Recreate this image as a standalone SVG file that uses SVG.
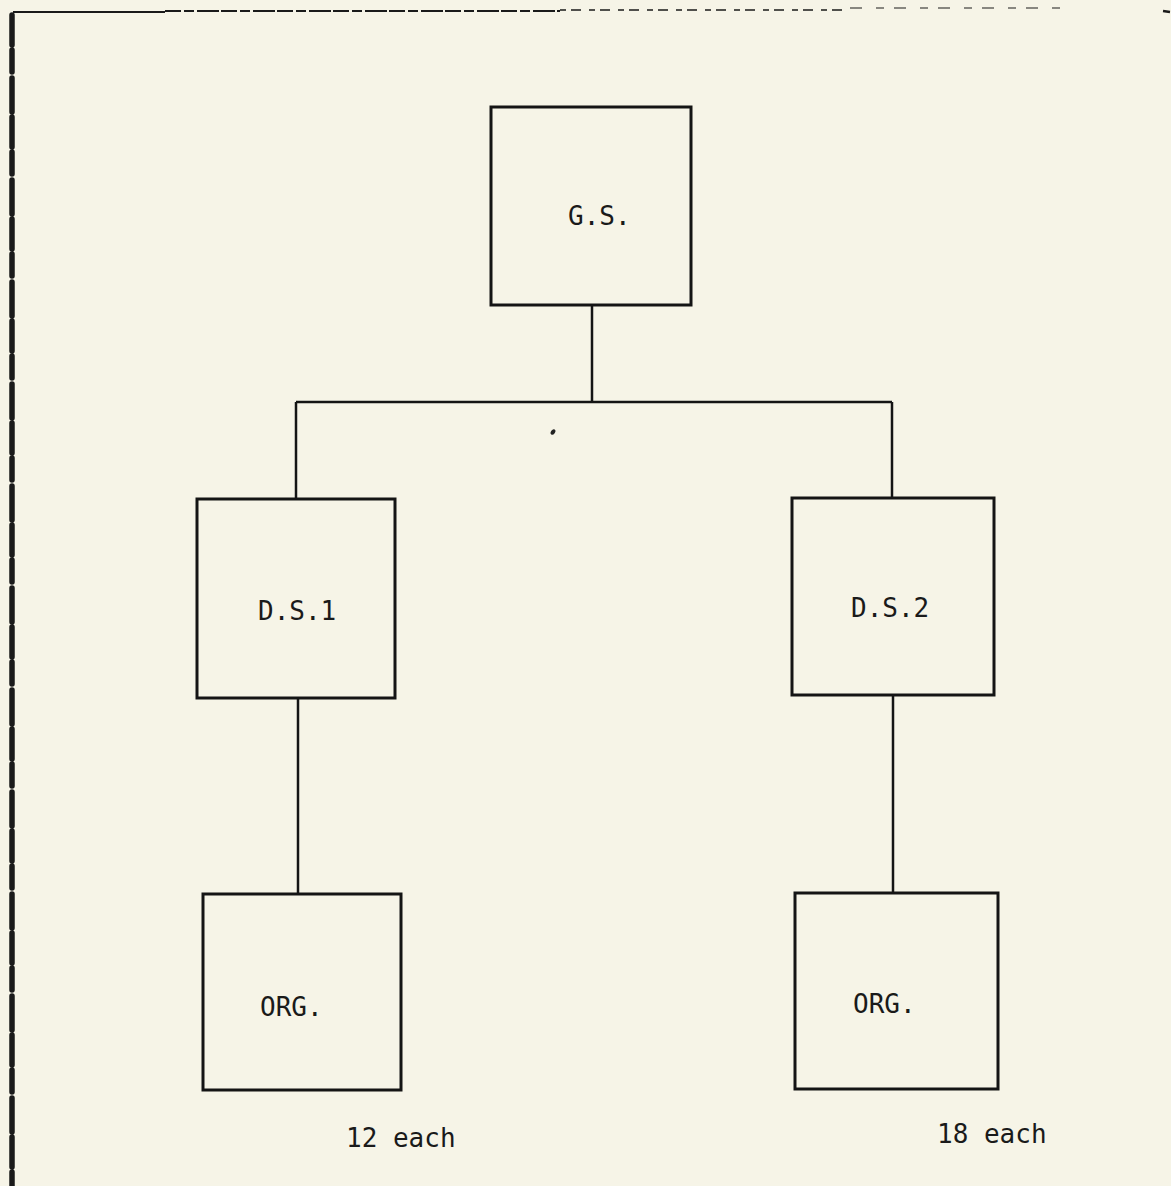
<svg xmlns="http://www.w3.org/2000/svg" width="1171" height="1186" viewBox="0 0 1171 1186">
<style>
.bg{fill:#f6f4e7}
.box{fill:none;stroke:#141414;stroke-width:3}
.con{fill:none;stroke:#141414;stroke-width:2.5}
.lbl{font-family:"DejaVu Sans Mono","Liberation Mono",monospace;font-size:26px;fill:#1a1a1a}
.frame{fill:none;stroke:#1a1a1a}
</style>
<rect class="bg" x="0" y="0" width="1171" height="1186"/>
<g id="frame">
<path class="frame" stroke-width="5.5" stroke-linecap="round" stroke-dasharray="30 5 22 6 34 5" d="M12 15 V1186"/>
<path class="frame" stroke-width="2.2" d="M13 12 H165"/>
<path class="frame" stroke-width="1.8" stroke-dasharray="16 3 10 3 22 2" d="M165 11 H560"/>
<path class="frame" stroke-width="1.4" stroke="#444" stroke-dasharray="6 5 10 8" d="M560 10 H850"/>
<path class="frame" stroke-width="1.2" stroke="#aaa" stroke-dasharray="12 14 8 10" d="M850 8 H1060"/>
<path class="frame" stroke-width="2.5" d="M1163 11 L1170 12"/>
</g>
<g id="connectors">
<path class="con" d="M592 305 V402"/>
<path class="con" d="M296 402 H892"/>
<path class="con" d="M296 402 V499"/>
<path class="con" d="M892 402 V498"/>
<path class="con" d="M298 698 V894"/>
<path class="con" d="M893 695 V893"/>
</g>
<ellipse cx="553" cy="432" rx="2" ry="3" fill="#222" transform="rotate(35 553 432)"/>
<g id="node-gs">
<rect class="box" x="491" y="107" width="200" height="198"/>
<text class="lbl" x="568" y="225">G.S.</text>
</g>
<g id="node-ds1">
<rect class="box" x="197" y="499" width="198" height="199"/>
<text class="lbl" x="258" y="620">D.S.1</text>
</g>
<g id="node-ds2">
<rect class="box" x="792" y="498" width="202" height="197"/>
<text class="lbl" x="851" y="617">D.S.2</text>
</g>
<g id="node-org1">
<rect class="box" x="203" y="894" width="198" height="196"/>
<text class="lbl" x="260" y="1016">ORG.</text>
</g>
<g id="node-org2">
<rect class="box" x="795" y="893" width="203" height="196"/>
<text class="lbl" x="853" y="1013">ORG.</text>
</g>
<text class="lbl" x="346" y="1147">12 each</text>
<text class="lbl" x="937" y="1143">18 each</text>
</svg>
